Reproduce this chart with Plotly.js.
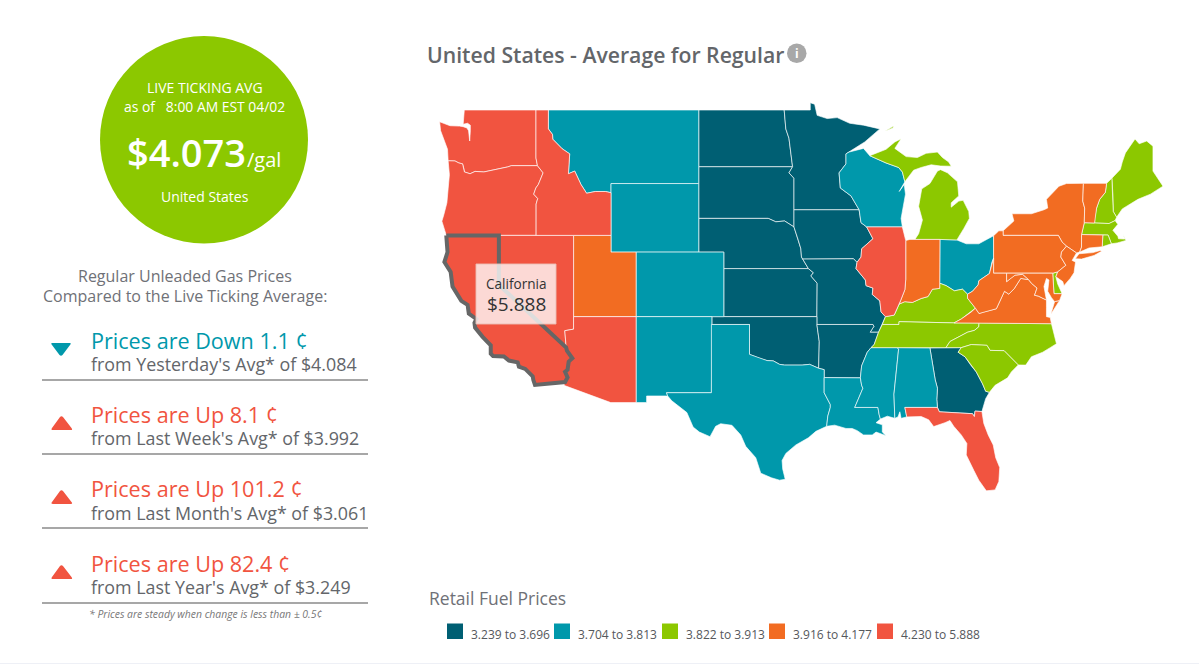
<!DOCTYPE html>
<html><head><meta charset="utf-8"><script src="https://cdn.plot.ly/plotly-3.0.1.min.js"></script>
<style>html,body{margin:0;background:#fff;overflow:hidden}#c{width:1199px;height:665px}</style></head><body><div id="c"></div>
<script>
// ---------- values ----------
const legendRanges=['3.239 to 3.696','3.704 to 3.813','3.822 to 3.913','3.916 to 4.177','4.230 to 5.888'];
const binColors=['#005f73','#0098ab','#8cc800','#f26c22','#f15440'];
const bin0=['ND','SD','MN','NE','IA','KS','MO','OK','AR','GA'];
const bin1=['MT','WY','CO','NM','TX','LA','MS','AL','WI','OH'];
const bin2=['MI','KY','TN','NC','SC','ME','NH','MA','RI','DE'];
const bin3=['UT','IN','NY','PA','NJ','VA','WV','VT','CT','MD'];
const bin4=['WA','OR','CA','NV','ID','AZ','FL','IL'];
const rowHeads=['Prices are Down 1.1 ¢','Prices are Up 8.1 ¢','Prices are Up 101.2 ¢','Prices are Up 82.4 ¢'];
const rowSubs=["from Yesterday's Avg* of $4.084","from Last Week's Avg* of $3.992","from Last Month's Avg* of $3.061","from Last Year's Avg* of $3.249"];
const rowDown=[true,false,false,false];
// ---------- state boundaries, longitude / latitude ----------
const columbia=[[-124.05,46.27],[-123.5,46.26],[-123.2,46.15],[-122.9,46.1],[-122.8,45.85],[-122.75,45.65],[-122.3,45.55],[-121.9,45.68],[-121.2,45.65],[-120.6,45.73],[-119.9,45.84],[-119.3,45.93],[-119,46],[-116.92,46]];
const snake=[[-117.03,42],[-117.03,43.83],[-116.9,44.15],[-117.22,44.4],[-117.05,44.75],[-116.85,44.95],[-116.5,45.5],[-116.47,45.6],[-116.92,46]];
const bitterroot=[[-116.05,48],[-115.72,47.7],[-115.7,47.45],[-114.95,46.93],[-114.35,46.65],[-114.45,45.55],[-113.95,45.7],[-113.45,44.95],[-113,44.45],[-112.3,44.55],[-111.5,44.55],[-111.05,44.48]];
const coloradoR=[[-114.63,35],[-114.57,34.8],[-114.14,34.3],[-114.43,34.08],[-114.52,33.55],[-114.72,33.4],[-114.52,33.03],[-114.72,32.72]];
const redR=[[-100,34.56],[-99.2,34.3],[-98.6,34.15],[-98.1,34.13],[-97.6,33.9],[-97.2,33.85],[-96.6,33.85],[-95.8,33.85],[-95.2,33.9],[-94.48,33.64]];
const missouriR=[[-96.45,42.5],[-96.1,41.7],[-95.9,41.2],[-95.85,40.7]];
const upperMiss=[[-91.25,43.5],[-91.1,42.75],[-90.65,42.5],[-90.15,41.8],[-91.05,41.2],[-91.1,40.7],[-91.42,40.38]];
const midMiss=[[-91.42,40.38],[-91.5,40],[-90.75,39.3],[-90.7,38.95],[-90.15,38.8],[-90.2,38.4],[-89.6,38],[-89.5,37.3],[-89.15,37]];
const lowerMiss=[[-89.7,36],[-90.05,35.2],[-90.3,35],[-90.6,34.7],[-91.05,33.8],[-91.15,33],[-91.05,32.5],[-90.95,32.3],[-91.6,31]];
const ohioIL=[[-88.05,37.8],[-88.45,37.1],[-89.15,37]];
const ohioIN=[[-84.82,39.1],[-84.82,38.78],[-85.4,38.73],[-85.75,38.27],[-86.3,38.15],[-87,37.9],[-87.6,37.95],[-88.05,37.8]];
const ohioOH=[[-84.82,39.1],[-84.3,38.95],[-83.65,38.63],[-83,38.73],[-82.6,38.42]];
const ohioWV=[[-82.6,38.42],[-82.2,38.6],[-81.75,39],[-81.7,39.25],[-80.85,39.7],[-80.65,40.4],[-80.52,40.64]];
const wvVa=[[-77.72,39.32],[-78.35,39.4],[-78.87,38.77],[-79.3,38.42],[-79.65,38.6],[-80.3,37.5],[-81.3,37.3],[-81.68,37.2],[-81.97,37.54]];
const potomac=[[-76.3,38.05],[-76.95,38.3],[-77.25,38.35],[-77.05,38.8],[-77.5,39.1],[-77.72,39.32]];
const ncTn=[[-84.32,35],[-84,35.4],[-83.1,35.77],[-82.6,36],[-82.05,36.12],[-81.7,36.35],[-81.68,36.59]];
const gaSc=[[-83.1,35],[-83.35,34.7],[-82.8,34.4],[-82.3,33.8],[-81.9,33.4],[-81.4,32.6],[-81.15,32.1],[-80.85,32.03]];
const vtNh=[[-71.5,45.01],[-71.6,44.5],[-72.05,44.1],[-72.3,43.6],[-72.45,43],[-72.46,42.73]];
const rev=a=>a.slice().reverse();
const WA=[[-122.76,49],[-122.85,48.25],[-122.5,48.3],[-122.28,48.2],[-122.28,47.9],[-122.33,47.35],[-122.42,47.9],[-122.55,48.05],[-122.85,48.12],[-123.15,48.15],[-123.9,48.17],[-124.73,48.38],[-124.65,47.9],[-124.35,47.35],[-124.1,46.9],...columbia,[-117.04,46.42],[-117.04,49]];
const OR=[[-124.05,46.27],[-123.95,45.5],[-124.05,44.7],[-124.15,43.9],[-124.4,43.2],[-124.55,42.84],[-124.2,42],...snake,...rev(columbia)];
const CA=[[-124.2,42],[-120,42],[-120,39],...coloradoR,[-117.12,32.53],[-117.25,32.85],[-117.3,33.1],[-117.9,33.6],[-118.4,33.75],[-118.5,34.03],[-119.2,34.15],[-119.6,34.42],[-120.47,34.45],[-120.65,34.6],[-120.65,35.15],[-121.3,35.7],[-121.9,36.3],[-121.95,36.6],[-121.8,36.85],[-122.4,37.2],[-122.5,37.75],[-123,38],[-123.7,38.9],[-123.85,39.8],[-124.35,40.4],[-124.1,41]];
const NV=[[-120,42],[-114.04,42],[-114.04,36.2],[-114.74,36.1],[-114.63,35],[-120,39]];
const ID=[[-117.04,49],[-116.05,49],...bitterroot,[-111.05,42],...snake,[-117.04,46.42]];
const MT=[[-116.05,49],[-104.05,49],[-104.05,45],[-111.05,45],...rev(bitterroot)];
const WY=[[-111.05,45],[-104.05,45],[-104.05,41],[-111.05,41]];
const UT=[[-114.04,42],[-111.05,42],[-111.05,41],[-109.05,41],[-109.05,37],[-114.04,37]];
const CO=[[-109.05,41],[-102.05,41],[-102.05,37],[-109.05,37]];
const AZ=[[-114.04,37],[-109.05,37],[-109.05,31.33],[-111.07,31.33],[-114.81,32.5],...rev(coloradoR),[-114.74,36.1],[-114.04,36.2]];
const NM=[[-109.05,37],[-103,37],[-103.04,32],[-106.62,32],[-106.53,31.78],[-108.21,31.78],[-108.21,31.33],[-109.05,31.33]];
const TX=[[-103.04,36.5],[-100,36.5],...redR,[-94.04,33.55],[-94.04,32],[-93.55,31.2],[-93.55,31],[-93.75,30.4],[-93.84,29.7],[-94.7,29.35],[-95.3,28.9],[-96.3,28.4],[-97.1,27.8],[-97.4,27.3],[-97.35,26.7],[-97.15,25.96],[-97.6,25.9],[-98.25,26.07],[-99.1,26.4],[-99.5,27.5],[-100.3,28.3],[-100.7,29.1],[-101.4,29.77],[-102.3,29.88],[-102.7,29.7],[-103.15,28.98],[-104,29.3],[-104.5,29.65],[-105,30.65],[-106.2,31.45],[-106.53,31.78],[-106.62,32],[-103.04,32]];
const OK=[[-103,37],[-94.62,37],[-94.62,36.5],[-94.43,35.4],...rev(redR),[-100,36.5],[-103,36.5]];
const KS=[[-102.05,40],[-95.3,40],[-94.9,39.75],[-95.1,39.55],[-94.6,39.1],[-94.62,37],[-102.05,37]];
const NE=[[-104.05,43],[-98.5,43],[-97.9,42.8],[-97.2,42.85],...missouriR,[-95.3,40],[-102.05,40],[-102.05,41],[-104.05,41]];
const SD=[[-104.05,45.94],[-96.56,45.94],[-96.85,45.6],[-96.45,45.3],[-96.45,42.5],[-97.2,42.85],[-97.9,42.8],[-98.5,43],[-104.05,43]];
const ND=[[-104.05,49],[-97.23,49],[-97.1,48],[-96.85,47.5],[-96.56,45.94],[-104.05,45.94]];
const MN=[[-97.23,49],[-95.15,49],[-95.15,49.38],[-94.8,49.3],[-94.6,48.72],[-93.8,48.55],[-93,48.6],[-92,48.3],[-90.9,48.2],[-89.6,48],[-90.8,47.3],[-92.05,46.75],[-92.3,46.65],[-92.3,46.1],[-92.85,45.6],[-92.75,44.75],[-91.9,44.3],[-91.25,43.5],[-96.45,43.5],[-96.45,45.3],[-96.85,45.6],[-96.56,45.94],[-96.85,47.5],[-97.1,48]];
const IA=[[-96.45,43.5],...upperMiss,[-91.7,40.6],[-95.75,40.58],...rev(missouriR)];
const MO=[[-95.75,40.58],[-91.7,40.6],...midMiss,[-89.4,36.5],[-89.7,36],[-90.37,36],[-90.07,36.38],[-90.15,36.5],[-94.62,36.5],[-94.62,37],[-94.6,39.1],[-95.1,39.55],[-94.9,39.75],[-95.3,40]];
const AR=[[-94.62,36.5],[-90.15,36.5],[-90.07,36.38],[-90.37,36],[-89.7,36],[-90.05,35.2],[-90.3,35],[-90.6,34.7],[-91.05,33.8],[-91.15,33],[-94.04,33.02],[-94.04,33.55],[-94.48,33.64],[-94.43,35.4]];
const LA=[[-94.04,33.02],[-91.15,33],[-91.05,32.5],[-90.95,32.3],[-91.6,31],[-89.75,31],[-89.65,30.5],[-89.55,30.2],[-89.9,29.95],[-89.4,29.8],[-89.4,29.3],[-89.1,29.05],[-89.9,29.3],[-90.2,29.1],[-90.9,29.1],[-91.4,29.4],[-91.8,29.55],[-92.3,29.55],[-93.2,29.78],[-93.84,29.7],[-93.75,30.4],[-93.55,31],[-93.55,31.2],[-94.04,32]];
const MS=[[-90.3,35],[-88.2,35],[-88.1,34.9],[-88.47,31.9],[-88.4,30.25],[-89,30.4],[-89.55,30.2],[-89.65,30.5],[-89.75,31],...rev(lowerMiss).slice(0,6)];
const AL=[[-88.2,35],[-85.6,34.98],[-85.18,32.87],[-85,32.3],[-85.05,31.55],[-85,31],[-87.6,31],[-87.45,30.35],[-87.9,30.25],[-88,30.7],[-88.15,30.35],[-88.4,30.25],[-88.47,31.9],[-88.1,34.9]];
const GA=[[-85.6,34.98],...gaSc,[-81.15,31.6],[-81.45,30.72],[-82,30.75],[-82.05,30.37],[-82.2,30.57],[-84.85,30.7],[-85,31],[-85.05,31.55],[-85,32.3],[-85.18,32.87]];
const FL=[[-87.6,31],[-85,31],[-84.85,30.7],[-82.2,30.57],[-82.05,30.37],[-82,30.75],[-81.45,30.72],[-81.3,29.9],[-80.95,29.1],[-80.55,28.4],[-80.35,27.5],[-80.03,26.8],[-80.1,25.8],[-80.4,25.2],[-81.1,25.13],[-81.7,25.9],[-82.1,26.6],[-82.7,27.7],[-82.65,28.5],[-83.1,29.1],[-83.7,29.7],[-84,30.1],[-84.4,29.95],[-85.3,29.68],[-85.7,30.15],[-86.3,30.38],[-87.45,30.35]];
const SC=[...gaSc,[-80.4,32.5],[-79.4,33],[-79.1,33.4],[-78.55,33.86],[-79.68,34.8],[-80.8,34.82],[-81.05,35.15],[-82.3,35.2]];
const NC=[[-84.32,35],[-83.1,35],[-82.3,35.2],[-81.05,35.15],[-80.8,34.82],[-79.68,34.8],[-78.55,33.86],[-77.95,33.85],[-77.5,34.4],[-76.6,34.7],[-76,35],[-75.5,35.25],[-75.9,36.55],[-81.68,36.59],...rev(ncTn)];
const TN=[[-90.3,35],[-88.2,35],[-85.6,34.98],...ncTn,[-83.68,36.6],[-88.07,36.68],[-88.07,36.5],[-89.4,36.5],[-89.7,36],[-90.05,35.2]];
const KY=[[-89.4,36.5],[-88.07,36.5],[-88.07,36.68],[-83.68,36.6],[-83.1,36.85],[-82.3,37.3],[-81.97,37.54],[-82.6,38.17],...rev(ohioOH),...ohioIN,...ohioIL];
const IL=[[-90.65,42.5],[-87.8,42.5],[-87.55,41.75],[-87.53,41.7],[-87.53,39.35],[-87.6,38.7],[-87.95,38],...ohioIL,...rev(midMiss),[-91.1,40.7],[-91.05,41.2],[-90.15,41.8]];
const IN=[[-87.53,41.7],[-87.2,41.76],[-84.8,41.76],...ohioIN,[-87.95,38],[-87.6,38.7],[-87.53,39.35]];
const OH=[[-84.8,41.76],[-83.45,41.73],[-82.7,41.5],[-81.7,41.5],[-80.52,41.98],...rev(ohioWV),...rev(ohioOH)];
const WI=[[-92.3,46.65],[-92.05,46.75],[-90.9,46.95],[-90.4,46.55],[-89.1,46.15],[-88.1,45.9],[-87.8,45.65],[-87.6,45.1],[-88.05,44.55],[-87.65,44.95],[-87.55,44.4],[-87.75,43.5],[-87.9,43],[-87.8,42.5],[-90.65,42.5],[-91.1,42.75],[-91.25,43.5],[-91.9,44.3],[-92.75,44.75],[-92.85,45.6],[-92.3,46.1]];
const MI=[[-90.4,46.55],[-89.1,46.9],[-88.4,47.3],[-87.9,47.47],[-88.4,46.95],[-87.5,46.5],[-86.6,46.45],[-85.9,46.68],[-85,46.75],[-84.6,46.45],[-84.1,46.2],[-83.9,45.97],[-84.75,45.98],[-85.5,46.05],[-86.3,45.9],[-86.9,45.75],[-87.6,45.1],[-87.8,45.65],[-88.1,45.9],[-89.1,46.15],null,[-84.8,41.76],[-86.8,41.76],[-86.5,42.1],[-86.2,42.9],[-86.5,43.7],[-86.25,44.7],[-85.6,45],[-85,45.7],[-84.75,45.78],[-84.2,45.6],[-83.4,45.1],[-83.3,44.3],[-83.9,43.9],[-83.9,43.65],[-83.3,44],[-82.95,44.05],[-82.5,43.4],[-82.45,43],[-82.9,42.4],[-83.15,42.1],[-83.45,41.73],null,[-89.2,47.87],[-88.5,48.15],[-88.55,48.05]];
const PA=[[-80.52,41.98],[-80.1,42.27],[-79.76,42.27],[-79.76,42],[-75.35,42],[-75.05,41.6],[-74.7,41.36],[-75.1,41],[-75.15,40.7],[-74.75,40.2],[-75.4,39.8],[-75.8,39.72],[-80.52,39.72]];
const NY=[[-79.76,42.27],[-78.9,42.85],[-79.05,43.27],[-77.5,43.27],[-76.5,43.5],[-76.2,43.6],[-76.3,44.1],[-75.3,44.85],[-74.7,45],[-73.35,45.01],[-73.4,44],[-73.25,43.6],[-73.28,42.75],[-73.5,42.05],[-73.5,41.3],[-73.65,41],[-73.9,40.95],[-74.7,41.36],[-75.05,41.6],[-75.35,42],[-79.76,42],null,[-74,40.6],[-73.7,40.9],[-72.6,40.97],[-72,41.1],[-71.9,41.05],[-72.5,40.8],[-73.5,40.58]];
const NJ=[[-74.7,41.36],[-73.9,40.95],[-74.25,40.5],[-73.98,40.4],[-74.1,39.75],[-74.4,39.4],[-74.9,38.95],[-75,39.2],[-75.55,39.5],[-75.4,39.8],[-74.75,40.2],[-75.15,40.7],[-75.1,41]];
const DE=[[-75.8,39.72],[-75.4,39.8],[-75.55,39.5],[-75.4,39.05],[-75.05,38.45],[-75.7,38.45]];
const MD=[[-79.48,39.72],[-75.8,39.72],[-75.7,38.45],[-75.05,38.45],[-75.25,38.03],[-75.65,37.95],[-75.9,38.2],[-76.2,38.6],[-76.1,39.3],[-76.3,39.4],[-76.5,38.9],[-76.4,38.3],...potomac,[-78.2,39.65],[-78.8,39.6],[-79.05,39.47],[-79.48,39.2]];
const VA=[[-83.68,36.6],[-81.68,36.59],[-75.9,36.55],[-76,36.95],[-76.3,37],[-76.3,37.6],...potomac,...wvVa.slice(1),[-82.3,37.3],[-83.1,36.85],null,[-75.65,37.95],[-75.25,38.03],[-75.95,37.15]];
const WV=[[-80.52,40.64],[-80.52,39.72],[-79.48,39.72],[-79.48,39.2],[-79.05,39.47],[-78.8,39.6],[-78.2,39.65],...wvVa,[-82.6,38.17],...ohioWV];
const VT=[[-73.35,45.01],...vtNh,[-73.28,42.75],[-73.25,43.6],[-73.4,44]];
const NH=[...vtNh.slice().reverse(),[-71.08,45.3],[-71,44.4],[-70.97,43.4],[-70.7,43.07],[-70.82,42.87],[-71.3,42.7]];
const ME=[[-71.08,45.3],[-70.4,45.8],[-70.25,46.2],[-70,46.7],[-69.23,47.46],[-68.9,47.2],[-68.3,47.35],[-67.8,47.07],[-67.8,45.7],[-67.45,45.3],[-67,44.85],[-68,44.4],[-69,44.1],[-69.8,43.75],[-70.25,43.55],[-70.7,43.07],[-70.97,43.4],[-71,44.4]];
const MA=[[-73.5,42.05],[-73.28,42.75],[-72.46,42.73],[-71.3,42.7],[-70.82,42.87],[-70.6,42.65],[-71,42.3],[-70.6,41.95],[-70.55,41.8],[-70.05,41.78],[-70.2,42.07],[-69.95,41.7],[-70.65,41.55],[-71.12,41.5],[-71.38,42.02],[-71.8,42.02]];
const RI=[[-71.8,42.02],[-71.38,42.02],[-71.12,41.5],[-71.85,41.32]];
const CT=[[-73.5,42.05],[-71.8,42.02],[-71.85,41.32],[-72.9,41.25],[-73.65,41],[-73.5,41.3]];
const shapesByCode={WA,OR,CA,NV,ID,MT,WY,UT,CO,AZ,NM,TX,OK,KS,NE,SD,ND,MN,IA,MO,AR,LA,MS,AL,GA,FL,SC,NC,TN,KY,IL,IN,OH,WI,MI,PA,NY,NJ,DE,MD,VA,WV,VT,NH,ME,MA,RI,CT};
// ---------- drawing ----------
const W=1199,H=665,FONT='"Open Sans",sans-serif';
const px=x=>x/W, py=y=>1-y/H;
const merc=lat=>Math.log(Math.tan(Math.PI/4+lat*Math.PI/360));
const traces=[];
function stateTrace(code,color,line){
  const ring=shapesByCode[code];
  const x=[],y=[];let first=null;
  ring.forEach(p=>{
    if(p===null){x.push(first[0],null);y.push(merc(first[1]),null);first=null;return;}
    if(!first)first=p;
    x.push(p[0]);y.push(merc(p[1]));
  });
  x.push(first[0]);y.push(merc(first[1]));
  return {type:'scatter',mode:'lines',x,y,fill:line?'none':'toself',fillcolor:color,line:line||{color:'rgba(255,255,255,.8)',width:.8},hoverinfo:'text',text:code,showlegend:false};
}
[bin0,bin1,bin2,bin3,bin4].forEach((b,i)=>b.forEach(c=>traces.push(stateTrace(c,binColors[i]))));
traces.push(stateTrace('CA',binColors[4],{color:'#666',width:4}));

const ann=[],shp=[];
const T=(text,x,y,size,color,anchor,weight)=>ann.push({text,x:px(x),y:py(y),xref:'paper',yref:'paper',showarrow:false,xanchor:anchor||'left',yanchor:'middle',font:{family:FONT,size,color,weight:weight||400},borderpad:0});
shp.push({type:'circle',xref:'paper',yref:'paper',x0:px(100),x1:px(308),y0:py(36),y1:py(243.5),fillcolor:'#8cc800',line:{width:0}});
T('LIVE TICKING AVG',204.5,87,14,'#fff','center');
T('as of &nbsp;&nbsp;8:00 AM EST 04/02',204.5,106,13.9,'#fff','center');
T('$4.073',186,152,38,'#fff','center',600);
T('/gal',246,159,20,'#fff');
T('United States',204.5,196,14,'#fff','center');
T('Regular Unleaded Gas Prices',185,276,16,'#6f7177','center');
T('Compared to the Live Ticking Average:',185,296,16,'#6f7177','center');
const rowY=[[340,364,380],[414,438,454],[488,513,528],[563,587,603]];
rowHeads.forEach((h,i)=>{
  const c=rowDown[i]?binColors[1]:binColors[4],[a,b,l]=rowY[i];
  T(h,90,a,21.6,c);
  T(rowSubs[i],90,b,17.85,'#63666a');
  shp.push({type:'line',xref:'paper',yref:'paper',x0:px(42),x1:px(368),y0:py(l),y1:py(l),line:{color:'#8a8a8a',width:1.3}});
  const X=v=>px(v).toFixed(5),Y=v=>py(v).toFixed(5);
  const path=rowDown[i]
   ?`M${X(52)},${Y(343)} L${X(70)},${Y(343)} Q${X(71.5)},${Y(343)} ${X(70)},${Y(345)} L${X(62.5)},${Y(355)} Q${X(61)},${Y(356.5)} ${X(59.5)},${Y(355)} L${X(52)},${Y(345)} Q${X(50.5)},${Y(343)} ${X(52)},${Y(343)} Z`
   :(()=>{const t=l-38,bt=l-24;return `M${X(60)},${Y(t+1)} Q${X(61.5)},${Y(t-.5)} ${X(63)},${Y(t+1)} L${X(71.5)},${Y(bt-2)} Q${X(73)},${Y(bt)} ${X(71)},${Y(bt)} L${X(53)},${Y(bt)} Q${X(50.5)},${Y(bt)} ${X(52)},${Y(bt-2)} Z`})();
  shp.push({type:'path',xref:'paper',yref:'paper',path,fillcolor:c,line:{width:0}});
});
T('<i>* Prices are steady when change is less than ± 0.5¢</i>',88,614,10.4,'#777');
T('United States - Average for Regular',426,54,21.2,'#63666a','left',600);
shp.push({type:'circle',xref:'paper',yref:'paper',x0:px(787),x1:px(806.5),y0:py(43.5),y1:py(63),fillcolor:'#a8a8a8',line:{width:0}});
T('<b>i</b>',796.7,53.5,12,'#fff','center');
T('Retail Fuel Prices',428,598,17.5,'#6f7177');
const legX=[447,554,662,769,877];
legendRanges.forEach((r,i)=>{
  shp.push({type:'rect',xref:'paper',yref:'paper',x0:px(legX[i]),x1:px(legX[i]+16),y0:py(623.5),y1:py(639),fillcolor:binColors[i],line:{width:0}});
  T(r,legX[i]+23,634,12,'#55585c');
});
// tooltip
shp.push({type:'rect',layer:'above',xref:'paper',yref:'paper',x0:px(476),x1:px(556),y0:py(264),y1:py(324),fillcolor:'rgba(255,255,255,.78)',line:{color:'rgba(235,190,180,.9)',width:1}});
T('California',516,283,13.6,'#333','center');
T('$5.888',516,304,19,'#333','center');
shp.push({type:'line',xref:'paper',yref:'paper',x0:0,x1:1,y0:py(663.5),y1:py(663.5),line:{color:'#eef0f6',width:1}});

const lon0=-124.7,kx=12.53,ytop=merc(49),ky=718;
Plotly.newPlot('c',traces,{width:W,height:H,margin:{l:0,r:0,t:0,b:0,pad:0},paper_bgcolor:'#fff',plot_bgcolor:'#fff',showlegend:false,hovermode:'closest',
 xaxis:{visible:false,fixedrange:true,range:[lon0-440/kx,lon0+(W-440)/kx]},
 yaxis:{visible:false,fixedrange:true,range:[ytop-(H-110)/ky,ytop+110/ky]},
 shapes:shp,annotations:ann},{displayModeBar:false});
</script></body></html>
